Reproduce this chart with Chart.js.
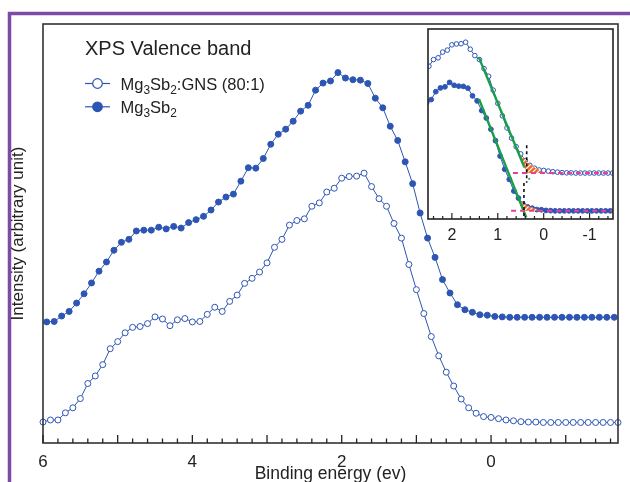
<!DOCTYPE html>
<html>
<head>
<meta charset="utf-8">
<script src="https://cdn.jsdelivr.net/npm/chart.js@4.4.0/dist/chart.umd.min.js"></script>
<style>
  html, body { margin: 0; padding: 0; background: #fff; }
  #wrap { position: relative; width: 630px; height: 482px; overflow: hidden; }
  #main { position: absolute; left: 0; top: 0; }
  #inset { position: absolute; left: 400px; top: 20px; }
</style>
</head>
<body>
<div id="wrap">
  <canvas id="main" width="630" height="482"></canvas>
  <canvas id="inset" width="225" height="230"></canvas>
</div>
<script>
// Datos (energia de enlace en eV, intensidad en unidades arbitrarias)
const energyGns = [6.0,5.9,5.8,5.7,5.6,5.5,5.4,5.3,5.2,5.1,5.0,4.9,4.8,4.7,4.6,4.5,4.4,4.3,4.2,4.1,
  4.0,3.9,3.8,3.7,3.6,3.5,3.4,3.3,3.2,3.1,3.0,2.9,2.8,2.7,2.6,2.5,2.4,2.3,2.2,2.1,
  2.0,1.9,1.8,1.7,1.6,1.5,1.4,1.3,1.2,1.1,1.0,0.9,0.8,0.7,0.6,0.5,0.4,0.3,0.2,0.1,
  0.0,-0.1,-0.2,-0.3,-0.4,-0.5,-0.6,-0.7,-0.8,-0.9,-1.0,-1.1,-1.2,-1.3,-1.4,-1.5,-1.6,-1.7]
const intensityGns = [5.0,5.5,5.5,7.2,8.4,10.6,14.2,16.0,18.7,22.5,
  24.2,26.3,27.6,27.8,28.5,30.1,29.6,28.0,29.4,29.7,
  28.9,29.0,30.7,32.4,31.4,33.8,35.3,38.1,39.3,40.8,
  43.0,46.7,48.6,52.0,53.1,53.5,56.5,57.3,59.9,60.8,
  63.2,63.6,63.7,64.4,61.2,58.3,56.5,52.4,48.9,42.6,
  36.6,30.9,25.4,20.8,16.9,13.6,10.5,8.4,7.1,6.3,
  6.1,5.8,5.5,5.3,5.1,5.0,5.0,4.9,4.9,4.9,
  4.9,4.9,4.9,4.9,4.9,4.9,4.9,4.9]

const energyPure = [5.95,5.85,5.75,5.65,5.55,5.45,5.35,5.25,5.15,5.05,4.95,4.85,4.75,4.65,4.55,4.45,4.35,4.25,4.15,4.05,
  3.95,3.85,3.75,3.65,3.55,3.45,3.35,3.25,3.15,3.05,2.95,2.85,2.75,2.65,2.55,2.45,2.35,2.25,2.15,2.05,
  1.95,1.85,1.75,1.65,1.55,1.45,1.35,1.25,1.15,1.05,0.95,0.85,0.75,0.65,0.55,0.45,0.35,0.25,0.15,0.05,
  -0.05,-0.15,-0.25,-0.35,-0.45,-0.55,-0.65,-0.75,-0.85,-0.95,-1.05,-1.15,-1.25,-1.35,-1.45,-1.55,-1.65]
const intensityPure = [28.9,29.0,30.3,31.4,33.4,35.6,38.2,41.0,43.2,46.0,
  47.9,48.6,50.6,50.8,50.8,51.5,51.1,51.7,51.3,52.6,
  53.3,54.1,55.6,57.5,58.7,59.4,62.5,65.7,65.6,67.9,
  71.3,73.7,74.9,76.8,79.2,80.6,84.2,85.9,86.4,88.4,
  87.1,86.7,86.6,85.8,82.3,80.0,75.6,72.2,67.1,61.9,
  54.9,48.9,44.3,39.0,35.8,33.0,31.8,31.2,30.6,30.5,
  30.2,30.1,30.0,30.0,30.0,30.0,30.0,30.0,30.0,30.0,
  30.0,30.0,30.0,30.0,30.0,30.0,30.0]

const mainTickLabels = [6, 4, 2, 0]
const insetTickLabels = [2, 1, 0, -1]

// ajustes lineales del borde de la banda (inset)
const fitGnsE = [1.41, 0.43], fitGnsI = [57.4, 8.0]
const tailGnsE = [0.43, 0.27], tailGnsI = [8.0, -0.1]
const fitPureE = [1.41, 0.38], fitPureI = [80.9, 27.0]
const baseGnsE = [0.67, -1.51], baseGnsI = [4.9, 4.9]
const basePureE = [0.71, -1.51], basePureI = [30.0, 30.0]
const vbmGnsE = [0.37, 0.37], vbmGnsI = [17.5, 0.5]
const vbmPureE = [0.43, 0.43], vbmPureI = [42.7, 26.3]
const triGnsE = [0.51, 0.37, 0.05, 0.1, 0.2, 0.3, 0.4, 0.48]
const triGnsI = [12.0, 4.9, 4.9, 6.5, 7.4, 8.9, 11.0, 12.6]
const triPureE = [0.54, 0.43, 0.11, 0.15, 0.25, 0.35, 0.45, 0.54]
const triPureI = [35.4, 30.0, 30.0, 30.8, 31.5, 32.2, 33.5, 35.8]

const azul = '#2d55b3'
const verde = '#1b9e4b'
const rosa = '#e6409c'
const naranjo = '#f26a21'
const fuente = '"Liberation Sans", Arial, sans-serif'
Chart.defaults.font.family = fuente

const pair = (xs, ys) => xs.map((x, i) => ({ x: x, y: ys[i] }))

// separa subindices (digitos despues de una letra)
function richParts(txt) {
    const parts = []
    const re = /([A-Za-z])(\d+)/g
    let last = 0, m
    while ((m = re.exec(txt)) !== null) {
        parts.push([txt.slice(last, m.index + 1), false])
        parts.push([m[2], true])
        last = m.index + m[0].length
    }
    parts.push([txt.slice(last), false])
    return parts
}

function drawRich(ctx, x, y, txt, size) {
    let cx = x
    for (const [t, sub] of richParts(txt)) {
        ctx.font = (sub ? size * 0.72 : size) + 'px ' + fuente
        ctx.fillText(t, cx, sub ? y + size * 0.27 : y)
        cx += ctx.measureText(t).width
    }
}

function ticksAdentro(chart, minor, major, width) {
    const x = chart.scales.x, a = chart.chartArea, ctx = chart.ctx
    ctx.save()
    ctx.strokeStyle = '#222'
    ctx.lineWidth = width
    x.ticks.forEach(t => {
        const px = x.getPixelForValue(t.value)
        const len = Math.abs(t.value - Math.round(t.value)) < 1e-6 ? major : minor
        ctx.beginPath()
        ctx.moveTo(px, a.bottom)
        ctx.lineTo(px, a.bottom - len)
        ctx.stroke()
    })
    ctx.restore()
}

function marcoArea(chart, color, width) {
    const a = chart.chartArea, ctx = chart.ctx
    ctx.save()
    ctx.strokeStyle = color
    ctx.lineWidth = width
    ctx.strokeRect(a.left, a.top, a.right - a.left, a.bottom - a.top)
    ctx.restore()
}

const mainDeco = {
    id: 'mainDeco',
    beforeDraw(chart) {
        const ctx = chart.ctx
        ctx.save()
        ctx.strokeStyle = '#7d4aa5'
        ctx.lineWidth = 3.5
        ctx.strokeRect(9.5, 13.5, 700, 600)
        ctx.restore()
    },
    afterDraw(chart) {
        const ctx = chart.ctx
        marcoArea(chart, '#333', 1.6)
        ticksAdentro(chart, 4.5, 8, 1.3)

        ctx.save()
        ctx.fillStyle = '#222'
        ctx.textBaseline = 'alphabetic'
        ctx.font = '20px ' + fuente
        ctx.fillText('XPS Valence band', 85, 55)

        // leyenda propia (para los subindices)
        const filas = [89.5, 112.8]
        chart.data.datasets.forEach((ds, i) => {
            const cy = filas[i] - 6
            ctx.strokeStyle = azul
            ctx.lineWidth = 1.2
            ctx.beginPath()
            ctx.moveTo(85, cy)
            ctx.lineTo(110, cy)
            ctx.stroke()
            ctx.beginPath()
            ctx.arc(97.5, cy, 4.8, 0, Math.PI * 2)
            ctx.fillStyle = ds.pointBackgroundColor
            ctx.fill()
            ctx.stroke()
            ctx.fillStyle = '#222'
            drawRich(ctx, 120.5, filas[i], ds.label, 16.5)
        })
        ctx.restore()
    }
}

new Chart(document.getElementById('main'), {
    type: 'line',
    data: {
        datasets: [
            {
                label: 'Mg3Sb2:GNS (80:1)',
                data: pair(energyGns, intensityGns),
                borderColor: azul, borderWidth: 1,
                pointRadius: 3.0, pointBackgroundColor: '#fff', pointBorderColor: azul, pointBorderWidth: 1,
                clip: false
            },
            {
                label: 'Mg3Sb2',
                data: pair(energyPure, intensityPure),
                borderColor: azul, borderWidth: 1,
                pointRadius: 3.0, pointBackgroundColor: azul, pointBorderColor: azul, pointBorderWidth: 1,
                clip: false
            }
        ]
    },
    options: {
        responsive: false,
        animation: false,
        devicePixelRatio: 1,
        layout: { padding: { top: 24, right: 12, left: 0, bottom: 0 }, autoPadding: false },
        plugins: { legend: { display: false }, tooltip: { enabled: false } },
        scales: {
            x: {
                type: 'linear', reverse: true, min: -1.7, max: 6,
                afterFit: s => { s.height = 39 },
                grid: { display: false, drawTicks: false },
                border: { display: false },
                ticks: {
                    stepSize: 0.2, autoSkip: false, maxRotation: 0, includeBounds: false,
                    padding: 9, color: '#222', font: { size: 17 },
                    callback: v => mainTickLabels.includes(Math.round(v * 10) / 10) ? String(Math.round(v)) : ''
                },
                title: { display: true, text: 'Binding energy (ev)', color: '#222', font: { size: 17.5 }, padding: { top: 0, bottom: -3 } }
            },
            y: {
                min: 0, max: 100,
                afterFit: s => { s.width = 43 },
                grid: { display: false, drawTicks: false },
                border: { display: false },
                ticks: { display: false },
                title: { display: true, text: 'Intensity (arbitrary unit)', color: '#222', font: { size: 17 }, padding: { top: 8, bottom: 0 } }
            }
        }
    },
    plugins: [mainDeco]
})

// ---------- inset ----------
function rayado() {
    const c = document.createElement('canvas')
    c.width = 5; c.height = 5
    const g = c.getContext('2d')
    g.fillStyle = naranjo
    g.fillRect(0, 0, 5, 5)
    g.strokeStyle = '#fff'
    g.lineWidth = 1.1
    g.beginPath()
    g.moveTo(-1, 1); g.lineTo(1, -1)
    g.moveTo(0, 5); g.lineTo(5, 0)
    g.moveTo(4, 6); g.lineTo(6, 4)
    g.stroke()
    return g.createPattern(c, 'repeat')
}

// indice del ultimo set de datos que se dibuja antes de las rectas de ajuste
const idxCurvas = 7

const insetDeco = {
    id: 'insetDeco',
    afterDatasetDraw(chart, args) {
        if (args.index !== idxCurvas) return
        const ctx = chart.ctx, x = chart.scales.x
        const tri = [[triGnsE, triGnsI, 'yGns'], [triPureE, triPureI, 'yPure']]
        ctx.save()
        ctx.fillStyle = rayado()
        tri.forEach(([es, is, ax]) => {
            const y = chart.scales[ax]
            ctx.beginPath()
            es.forEach((e, i) => {
                const px = x.getPixelForValue(e), py = y.getPixelForValue(is[i])
                if (i === 0) ctx.moveTo(px, py)
                else ctx.lineTo(px, py)
            })
            ctx.closePath()
            ctx.fill()
        })
        ctx.restore()
    },
    afterDraw(chart) {
        marcoArea(chart, '#222', 1.6)
        ticksAdentro(chart, 3, 6, 1.2)
    }
}

const linea = (xs, ys, ax, color, width, dash, order) => ({
    data: pair(xs, ys), yAxisID: ax, borderColor: color, borderWidth: width,
    borderDash: dash, pointRadius: 0, order: order, fill: false
})

new Chart(document.getElementById('inset'), {
    type: 'line',
    data: {
        datasets: [
            linea(vbmGnsE, vbmGnsI, 'yGns', '#111', 1.6, [3, 3], 0),
            linea(vbmPureE, vbmPureI, 'yPure', '#111', 1.6, [3, 3], 0),
            linea(baseGnsE, baseGnsI, 'yGns', rosa, 2, [5, 4], 1),
            linea(basePureE, basePureI, 'yPure', rosa, 2, [5, 4], 1),
            linea(fitGnsE, fitGnsI, 'yGns', verde, 2.4, [], 2),
            linea(tailGnsE, tailGnsI, 'yGns', verde, 2, [1.5, 5], 2),
            linea(fitPureE, fitPureI, 'yPure', verde, 2.4, [], 2),
            {
                data: pair(energyGns, intensityGns), yAxisID: 'yGns', order: 5,
                borderColor: azul, borderWidth: 1,
                pointRadius: 2.3, pointBackgroundColor: '#fff', pointBorderColor: azul, pointBorderWidth: 1
            },
            {
                data: pair(energyPure, intensityPure), yAxisID: 'yPure', order: 5,
                borderColor: azul, borderWidth: 1,
                pointRadius: 2.4, pointBackgroundColor: azul, pointBorderColor: azul, pointBorderWidth: 1
            }
        ]
    },
    options: {
        responsive: false,
        animation: false,
        devicePixelRatio: 1,
        layout: { padding: { top: 9, right: 12, left: 28, bottom: 0 }, autoPadding: false },
        plugins: { legend: { display: false }, tooltip: { enabled: false } },
        scales: {
            x: {
                type: 'linear', reverse: true, min: -1.51, max: 2.52,
                afterFit: s => { s.height = 31 },
                grid: { display: false, drawTicks: false },
                border: { display: false },
                ticks: {
                    stepSize: 0.2, autoSkip: false, maxRotation: 0, includeBounds: false,
                    padding: 7, color: '#222', font: { size: 16 },
                    callback: v => insetTickLabels.includes(Math.round(v * 10) / 10) ? String(Math.round(v)) : ''
                }
            },
            yGns: { display: false, min: -16, max: 70.4 },
            yPure: { display: false, min: 26.3, max: 112.7 }
        }
    },
    plugins: [insetDeco]
})
</script>
</body>
</html>
